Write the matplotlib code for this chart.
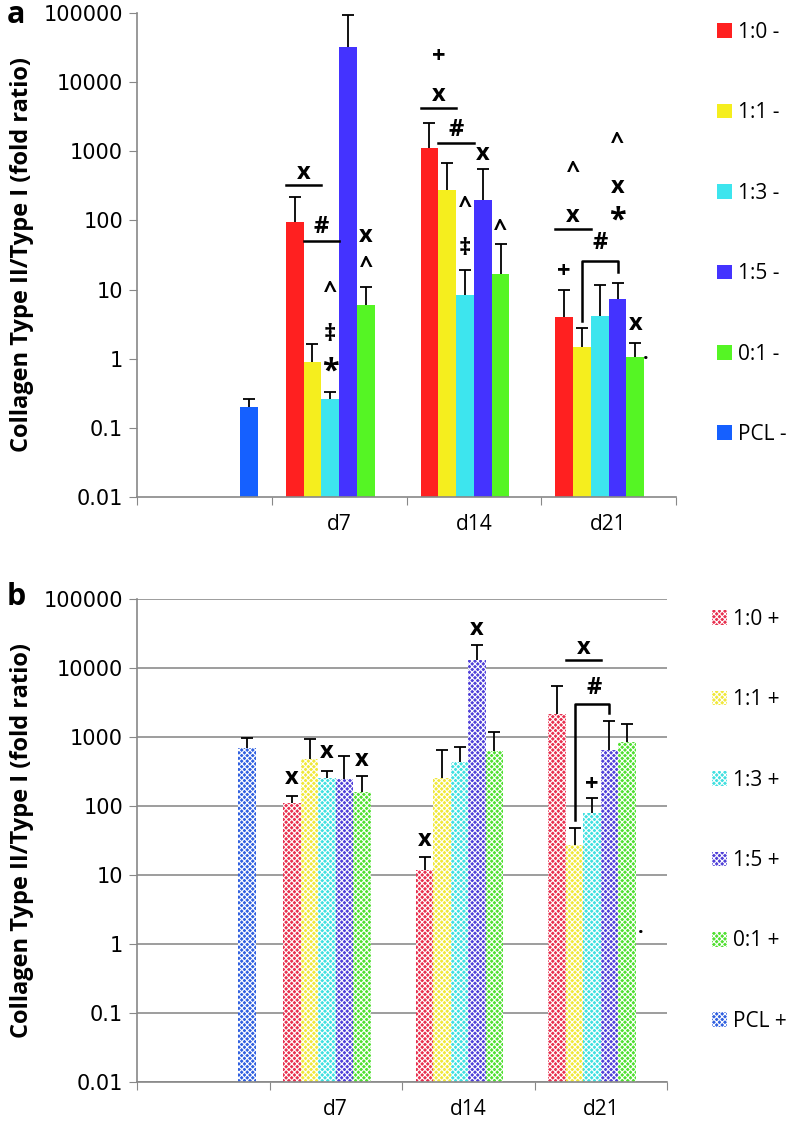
import numpy as np
import matplotlib.pyplot as plt
from matplotlib.patches import Patch

plt.rcParams['font.family'] = ['Open Sans', 'DejaVu Sans']
plt.rcParams['hatch.linewidth'] = 0.8

categories = ['', 'd7', 'd14', 'd21']
day_pos = [1, 2, 3]

# panel a: mean fold ratio and upper error, d7/d14/d21
a_names = ['1:0 -', '1:1 -', '1:3 -', '1:5 -', '0:1 -', 'PCL -']
a_10 = [94, 1120, 4.0]
a_11 = [0.91, 280, 1.5]
a_13 = [0.26, 8.3, 4.1]
a_15 = [32000, 195, 7.4]
a_01 = [5.9, 16.6, 1.07]
a_pcl = [0.2]
a_10_err = [121, 1480, 6.0]
a_11_err = [0.74, 390, 1.3]
a_13_err = [0.07, 10.7, 7.6]
a_15_err = [63000, 365, 5.2]
a_01_err = [5.1, 29.4, 0.59]
a_pcl_err = [0.06]

# panel b
b_names = ['1:0 +', '1:1 +', '1:3 +', '1:5 +', '0:1 +', 'PCL +']
b_10 = [112, 12, 2150]
b_11 = [480, 255, 27]
b_13 = [253, 435, 79]
b_15 = [250, 13000, 650]
b_01 = [160, 630, 850]
b_pcl = [690]
b_10_err = [29, 6, 3350]
b_11_err = [450, 395, 21]
b_13_err = [72, 285, 51]
b_15_err = [280, 8500, 1030]
b_01_err = [110, 570, 690]
b_pcl_err = [280]

a_colors = ['#ff2020', '#f5ee1e', '#3de5ee', '#4433ff', '#55f524', '#1560ff']
b_colors = ['#e8304f', '#f0e83a', '#40e0e0', '#5040d8', '#50e030', '#3060e0']

W = 0.132
fig = plt.figure(figsize=(7.92, 11.28), dpi=100)
axa = fig.add_axes([137/792, 1-497/1128, (676-137)/792, (497-13)/1128])
axb = fig.add_axes([137/792, 1-1082/1128, (667-137)/792, (1082-599)/1128])


def up_err(ax, x, v, e):
    _, caps, _ = ax.errorbar(x, v, yerr=[np.zeros(len(v)), e], fmt='none', ecolor='black',
                             elinewidth=1.3, capsize=4, capthick=1.3)
    caps[0].set_visible(False)


def draw(ax, series, errs, pcl, pcl_err, colors, hatch):
    kw = dict(width=W, linewidth=0)
    if hatch:
        kw.update(hatch='xxxxxx', edgecolor='white')
    for i, (v, e) in enumerate(zip(series, errs)):
        x = np.array(day_pos) + (i - 2) * W
        ax.bar(x, v, color=colors[i], **kw)
        up_err(ax, x, v, e)
    x = np.array([0]) + 3 * W
    ax.bar(x, pcl, color=colors[5], **kw)
    up_err(ax, x, pcl, pcl_err)
    ax.set_yscale('log')
    ax.set_ylim(0.01, 100000)
    ax.set_xlim(-0.5 + W / 2, 3.5 + W / 2)
    ax.set_yticks([0.01, 0.1, 1, 10, 100, 1000, 10000, 100000])
    ax.set_yticklabels(['0.01', '0.1', '1', '10', '100', '1000', '10000', '100000'],
                       fontfamily='DejaVu Sans', fontsize=15)
    ax.minorticks_off()
    ax.set_xticks(np.arange(-0.5, 4, 1) + W / 2)
    ax.set_xticklabels([])
    ax.set_xticks(np.arange(4) + W / 2, categories, minor=True)
    ax.tick_params(axis='x', which='minor', length=0, labelsize=15, pad=12)
    ax.tick_params(axis='x', which='major', length=6, color='#888888')
    ax.tick_params(axis='y', length=6, color='#888888', pad=4)
    for s in ['top', 'right']:
        ax.spines[s].set_visible(False)
    for s in ['left', 'bottom']:
        ax.spines[s].set_color('#888888')
        ax.spines[s].set_linewidth(1.2)


draw(axa, [a_10, a_11, a_13, a_15, a_01],
     [a_10_err, a_11_err, a_13_err, a_15_err, a_01_err], a_pcl, a_pcl_err, a_colors, False)
draw(axb, [b_10, b_11, b_13, b_15, b_01],
     [b_10_err, b_11_err, b_13_err, b_15_err, b_01_err], b_pcl, b_pcl_err, b_colors, True)
axb.yaxis.grid(True, color='#8c8c8c', linewidth=1.2)
axb.set_axisbelow(True)


def sx(cat, slot):
    return cat + (slot - 2) * W


def mark(ax, cat, slot, y, s, size=17):
    ax.text(sx(cat, slot), y, s, ha='center', va='center', fontsize=size,
            fontweight='bold', family=['Open Sans', 'DejaVu Sans'])


def bar_line(ax, cat, s0, s1, y):
    ax.plot([sx(cat, s0) - W / 2, sx(cat, s1) + W / 2], [y, y], color='black', lw=1.8)


def bracket(ax, cat, s0, s1, y0, ytop, y1):
    ax.plot([sx(cat, s0)] * 2 + [sx(cat, s1)] * 2, [y0, ytop, ytop, y1],
            color='black', lw=1.8)


# panel a significance marks
bar_line(axa, 1, 0, 1, 325); mark(axa, 1, 0.5, 480, 'x')
bar_line(axa, 1, 1, 2, 51); mark(axa, 1, 1.5, 80, '#')
mark(axa, 1, 4, 60, 'x'); mark(axa, 1, 4, 21, '^')
mark(axa, 1, 2, 9.1, '^'); mark(axa, 1, 2, 2.2, '‡'); mark(axa, 1, 2, 0.65, '*', 22)
mark(axa, 2, 0.5, 23000, '+'); mark(axa, 2, 0.5, 6500, 'x'); bar_line(axa, 2, 0, 1, 4200)
mark(axa, 2, 1.5, 2000, '#'); bar_line(axa, 2, 1, 2, 1300)
mark(axa, 2, 3, 910, 'x')
mark(axa, 2, 2, 155, '^'); mark(axa, 2, 2, 39, '‡')
mark(axa, 2, 4, 72, '^')
mark(axa, 3, 0.5, 500, '^'); mark(axa, 3, 0.5, 117, 'x'); bar_line(axa, 3, 0, 1, 76)
mark(axa, 3, 0, 18, '+')
bracket(axa, 3, 1, 3, 3.5, 26, 18); mark(axa, 3, 2, 47, '#')
mark(axa, 3, 3, 1300, '^'); mark(axa, 3, 3, 300, 'x'); mark(axa, 3, 3, 100, '*', 22)
mark(axa, 3, 4, 3.2, 'x'); mark(axa, 3, 4.6, 1.17, '.', 14)

# panel b significance marks
mark(axb, 1, 0, 257, 'x'); mark(axb, 1, 2, 600, 'x'); mark(axb, 1, 4, 470, 'x')
mark(axb, 2, 0, 32, 'x'); mark(axb, 2, 3, 37000, 'x')
mark(axb, 3, 1.5, 19500, 'x'); bar_line(axb, 3, 1, 2, 13200)
mark(axb, 3, 2.1, 5100, '#'); bracket(axb, 3, 1, 3, 63, 3000, 2240)
mark(axb, 3, 2, 200, '+')
mark(axb, 3, 4.8, 1.7, '.', 14)

ylab = 'Collagen Type II/Type I (fold ratio)'
fig.text(22/792, 1-255/1128, ylab, rotation=90, ha='center', va='center',
         fontsize=17, fontweight='bold')
fig.text(22/792, 1-840/1128, ylab, rotation=90, ha='center', va='center',
         fontsize=17, fontweight='bold')
fig.text(16/792, 1-15/1128, 'a', ha='center', va='center', fontsize=22, fontweight='bold')
fig.text(16/792, 1-597/1128, 'b', ha='center', va='center', fontsize=22, fontweight='bold')

ha = [Patch(facecolor=c, linewidth=0) for c in a_colors]
hb = [Patch(facecolor=c, hatch='xxxxxx', edgecolor='white', linewidth=0) for c in b_colors]
fig.legend(ha, a_names, loc='upper left', bbox_to_anchor=(717/792, 1-22/1128),
           frameon=False, handlelength=0.7, handleheight=0.7, handletextpad=0.3,
           labelspacing=2.85, fontsize=15, borderpad=0, borderaxespad=0)
fig.legend(hb, b_names, loc='upper left', bbox_to_anchor=(712/792, 1-609/1128),
           frameon=False, handlelength=0.7, handleheight=0.7, handletextpad=0.3,
           labelspacing=2.85, fontsize=15, borderpad=0, borderaxespad=0)

fig.savefig('out.png', dpi=100)
